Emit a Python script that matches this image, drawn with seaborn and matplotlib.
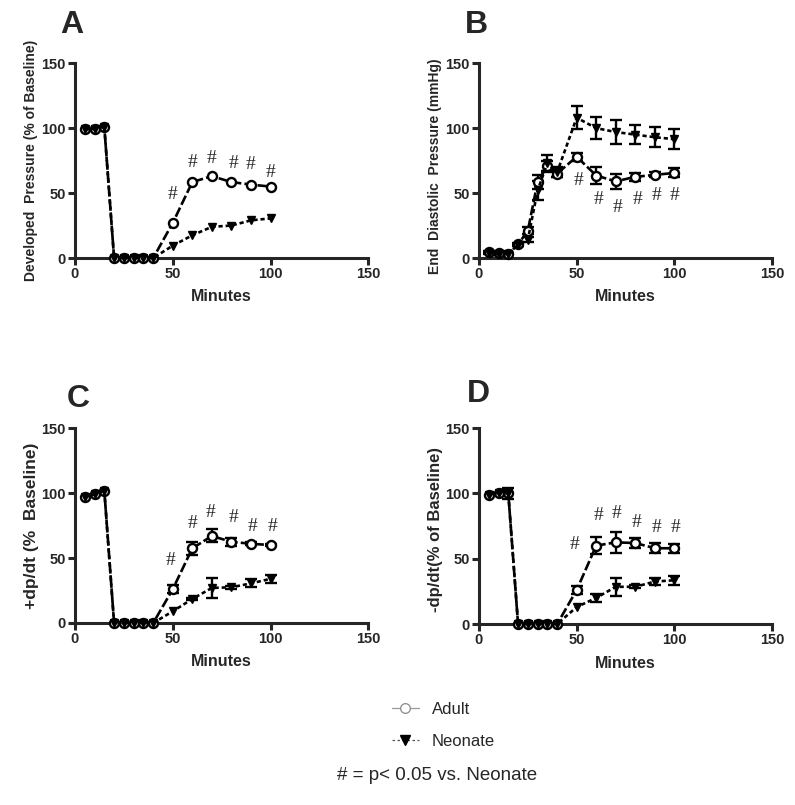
import numpy as np
import pandas as pd
import matplotlib
matplotlib.use("Agg")
import matplotlib.pyplot as plt
import seaborn as sns
from matplotlib.lines import Line2D

# ---------------- data ----------------
minutes = [5, 10, 15, 20, 25, 30, 35, 40, 50, 60, 70, 80, 90, 100]

A_adult = [99, 99.5, 101, 0, 0, 0, 0, 0, 27, 58.5, 63, 58.5, 56.5, 55]
A_adult_err = [0] * 14
A_neo = [99, 99.5, 101, 0, 0, 0, 0, 0, 9.5, 17.5, 24, 25, 29, 30.5]
A_neo_err = [0] * 14

B_adult = [4.5, 3.5, 3, 10.5, 21, 58.5, 71, 65, 78, 63.5, 59, 62.5, 64, 65.5]
B_adult_err = [1, 1, 1, 1, 2.5, 5.5, 4, 3, 3, 6.5, 6, 3, 2, 3.5]
B_neo = [4, 3, 3, 10, 14, 52, 73, 66, 108, 100, 97, 95, 93, 91.5]
B_neo_err = [1, 1, 1, 1, 2, 7, 6.5, 4, 9, 8.5, 9, 7.5, 7.5, 7.5]

C_adult = [97, 99, 102, 0, 0, 0, 0, 0, 26, 57.5, 67, 62.5, 61, 60]
C_adult_err = [0, 0, 0, 0, 0, 0, 0, 0, 3, 5, 5, 3, 1, 1]
C_neo = [97, 99, 102, 0, 0, 0, 0, 0, 9, 18.5, 27, 27.5, 30.5, 34]
C_neo_err = [0, 0, 0, 0, 0, 0, 0, 0, 0, 1, 8, 1, 3, 3]

D_adult = [99, 100.5, 100, 0, 0, 0, 0, 0, 26, 60, 62.5, 62, 58, 58]
D_adult_err = [0, 0, 4, 0, 0, 0, 0, 0, 3, 6.5, 8, 4, 4, 3.5]
D_neo = [99, 100.5, 100, 0, 0, 0, 0, 0, 13, 20, 28.5, 28.5, 32.5, 33.5]
D_neo_err = [0, 0, 0, 0, 0, 0, 0, 0, 0, 3, 7, 1, 2.5, 3.5]

# significance marks (# = p<0.05 vs Neonate)
A_hash_x = [50, 60, 70, 81, 90, 100]
A_hash_y = [49, 73.5, 76.5, 72.5, 72, 66]
B_hash_x = [51, 61, 71, 81, 91, 100]
B_hash_y = [60, 45, 39, 45, 48, 48]
C_hash_x = [49, 60, 69.5, 81, 91, 101]
C_hash_y = [48.5, 76.5, 85, 81, 74, 74]
D_hash_x = [49, 61, 70.5, 80.5, 91, 100.5]
D_hash_y = [60.5, 83, 84.5, 77.5, 73.5, 73.5]

ylabels = {
    "A": "Developed  Pressure (% of Baseline)",
    "B": "End  Diastolic  Pressure (mmHg)",
    "C": "+dp/dt (%  Baseline)",
    "D": "-dp/dt(% of Baseline)",
}
xticks = [0, 50, 100, 150]
yticks = [0, 50, 100, 150]

# ---------------- style ----------------
sns.set_style("ticks")
plt.rcParams["font.family"] = ["Liberation Sans", "DejaVu Sans"]

fig = plt.figure(figsize=(7.95, 8.05), dpi=100)

panels = {
    "A": dict(pos=[0.0943, 0.6795, 0.369, 0.242], adult=A_adult, aerr=A_adult_err,
              neo=A_neo, nerr=A_neo_err, hx=A_hash_x, hy=A_hash_y,
              ylfs=10, ylc=(-0.150, 0.5), letter=(60, 33)),
    "B": dict(pos=[0.6025, 0.6795, 0.3686, 0.242], adult=B_adult, aerr=B_adult_err,
              neo=B_neo, nerr=B_neo_err, hx=B_hash_x, hy=B_hash_y,
              ylfs=10, ylc=(-0.150, 0.47), letter=(465, 33)),
    "C": dict(pos=[0.0943, 0.2261, 0.369, 0.242], adult=C_adult, aerr=C_adult_err,
              neo=C_neo, nerr=C_neo_err, hx=C_hash_x, hy=C_hash_y,
              ylfs=12.5, ylc=(-0.147, 0.5), letter=(67, 407)),
    "D": dict(pos=[0.6025, 0.2248, 0.3686, 0.2435], adult=D_adult, aerr=D_adult_err,
              neo=D_neo, nerr=D_neo_err, hx=D_hash_x, hy=D_hash_y,
              ylfs=12, ylc=(-0.150, 0.48), letter=(467, 402)),
}

W, H = 795, 805
adult_ls = (0, (3.8, 1.2))
neo_ls = (0, (1.6, 1.1))

for key, p in panels.items():
    ax = fig.add_axes(p["pos"])
    x = np.array(minutes, dtype=float)
    ya = np.array(p["adult"], dtype=float)
    yn = np.array(p["neo"], dtype=float)
    ea = np.array(p["aerr"], dtype=float)
    en = np.array(p["nerr"], dtype=float)

    # error bars
    m = ea > 0
    ax.errorbar(x[m], ya[m], yerr=ea[m], fmt="none", ecolor="black",
                elinewidth=1.7, capsize=4, capthick=1.7, zorder=2.5, clip_on=False)
    m = en > 0
    ax.errorbar(x[m], yn[m], yerr=en[m], fmt="none", ecolor="black",
                elinewidth=1.7, capsize=4, capthick=1.7, zorder=2.5, clip_on=False)

    sns.lineplot(x=x, y=ya, ax=ax, color="black", lw=1.9, linestyle=adult_ls,
                 marker="o", markersize=6.5, markerfacecolor="white",
                 markeredgecolor="black", markeredgewidth=1.7,
                 errorbar=None, clip_on=False, zorder=3)
    sns.lineplot(x=x, y=yn, ax=ax, color="black", lw=1.9, linestyle=neo_ls,
                 marker="v", markersize=5.2, markerfacecolor="black",
                 markeredgecolor="black", markeredgewidth=1.0,
                 errorbar=None, clip_on=False, zorder=4)

    for hx, hy in zip(p["hx"], p["hy"]):
        ax.text(hx, hy, "#", ha="center", va="center", fontsize=14,
                family=["Liberation Serif", "DejaVu Serif"], zorder=5)

    ax.set_xlim(0, 150)
    ax.set_ylim(0, 150)
    ax.set_xticks(xticks)
    ax.set_yticks(yticks)
    sns.despine(ax=ax)
    for s in ("left", "bottom"):
        ax.spines[s].set_linewidth(2.2)
    ax.tick_params(axis="both", width=2.2, length=5, labelsize=10.5, pad=1.5)
    for lab in ax.get_xticklabels() + ax.get_yticklabels():
        lab.set_fontweight("bold")

    ax.set_xlabel("Minutes", fontsize=11.5, fontweight="bold")
    ax.xaxis.set_label_coords(0.5, -0.20)
    ax.xaxis.label.set_verticalalignment("center")
    ax.set_ylabel(ylabels[key], fontsize=p["ylfs"], fontweight="bold")
    ax.yaxis.set_label_coords(*p["ylc"])
    ax.yaxis.label.set_verticalalignment("center")

    lx, ly = p["letter"]
    fig.text(lx / W, 1 - ly / H, key, fontsize=23, fontweight="bold",
             ha="left", va="baseline")

# legend
handles = [
    Line2D([0], [0], color="#9a9a9a", lw=0.9, marker="o", markersize=7,
           markerfacecolor="white", markeredgecolor="#8a8a8a", markeredgewidth=0.9),
    Line2D([0], [0], color="#555555", lw=0.9, linestyle=(0, (2, 2)), marker="v",
           markersize=6.5, markerfacecolor="black", markeredgecolor="black"),
]
fig.legend(handles, ["Adult", "Neonate"], loc="center", bbox_to_anchor=(0.558, 0.099),
           frameon=False, fontsize=12, handlelength=1.6, labelspacing=1.0,
           handletextpad=0.8)

fig.text(0.55, 1 - 775 / H, "# = p< 0.05 vs. Neonate", ha="center", va="center",
         fontsize=13.5)

fig.savefig("out.png", dpi=100)
